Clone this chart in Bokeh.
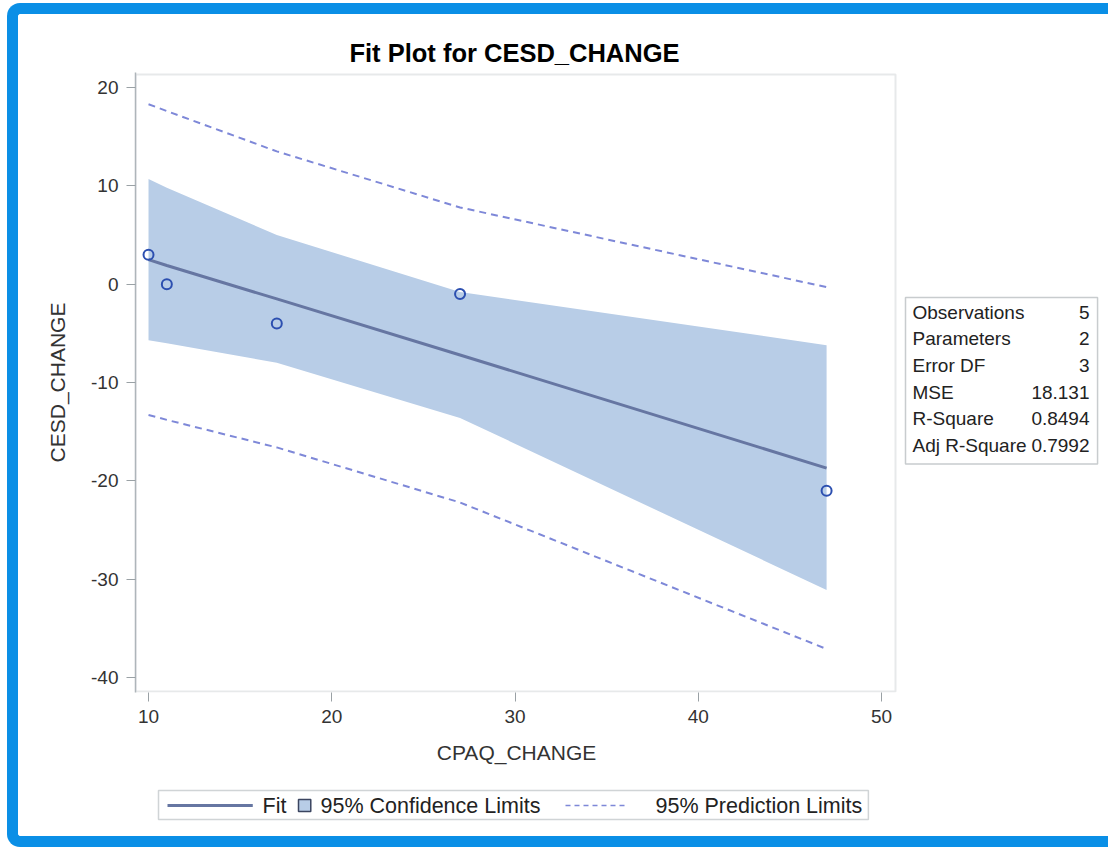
from bokeh.plotting import figure
from bokeh.models import Label, FixedTicker, InlineStyleSheet, BoxAnnotation, ColumnDataSource
from bokeh.embed import file_html
from bokeh.resources import INLINE

# ---- data ----
x_obs = [10, 11, 17, 27, 47]
y_obs = [3, 0, -4, -1, -21]
fit_y = [2.5, 1.9, -1.5, -7.2, -18.7]
clm_upper = [10.7, 9.8, 5.0, -0.8, -6.2]
clm_lower = [-5.7, -6.0, -8.0, -13.6, -31.1]
pred_upper = [18.3, 17.6, 13.5, 7.8, -0.3]
pred_lower = [-13.3, -13.8, -16.6, -22.2, -37.1]
x_ticks = [10, 20, 30, 40, 50]
y_ticks = [-40, -30, -20, -10, 0, 10, 20]
stat_names = ["Observations", "Parameters", "Error DF", "MSE", "R-Square", "Adj R-Square"]
stat_values = ["5", "2", "3", "18.131", "0.8494", "0.7992"]
legend_labels = ["Fit", "95% Confidence Limits", "95% Prediction Limits"]
title_text = "Fit Plot for CESD_CHANGE"
x_label = "CPAQ_CHANGE"
y_label = "CESD_CHANGE"

# plot-area extents in data units
X_LO, X_HI = 9.29, 50.76
Y_LO, Y_HI = -41.42, 21.32

FONT = "Liberation Sans"
W, H = 1108, 847
BOX_L, BOX_R, BOX_T, BOX_B = 135, 895, 74, 691   # plot box in pixels
FL, FT, FB = BOX_L, BOX_T - 2, BOX_B + 1
FR = 1105             # frame extends under the statistics inset
GRAY = "#AEB5BA"
FIT_C = "#6676A2"
PRED_C = "#7E88D8"
BAND_C = "#B8CDE7"

xs = (X_HI - X_LO) / (BOX_R - BOX_L)
ys = (Y_HI - Y_LO) / (BOX_B - BOX_T)
p = figure(width=W, height=H, output_backend="svg", toolbar_location=None,
           x_range=(X_LO, X_LO + xs * (FR - FL)),
           y_range=(Y_LO - ys * (FB - BOX_B), Y_HI + ys * (BOX_T - FT)),
           min_border_left=FL, min_border_right=W - FR,
           min_border_top=FT, min_border_bottom=H - FB)
p.title.visible = False
p.background_fill_color = "white"
p.border_fill_color = "white"
p.outline_line_color = None
p.grid.visible = False

for ax in (p.xaxis[0], p.yaxis[0]):
    ax.axis_line_color = GRAY
    ax.axis_line_width = 1.5
    ax.major_tick_line_color = "#9AA1A5"
    ax.major_tick_out = 9
    ax.major_tick_in = 0
    ax.minor_tick_line_color = None
    ax.major_label_text_font = FONT
    ax.major_label_text_font_size = "19px"
    ax.major_label_text_color = "#333333"
    ax.axis_label_text_font = FONT
    ax.axis_label_text_font_size = "21px"
    ax.axis_label_text_font_style = "normal"
    ax.axis_label_text_color = "#333333"
    ax.major_label_standoff = 8
p.xaxis.axis_line_color = None

p.xaxis.ticker = FixedTicker(ticks=x_ticks)
p.yaxis.ticker = FixedTicker(ticks=y_ticks)
p.xaxis.major_label_overrides = {t: str(t) for t in x_ticks}
p.yaxis.major_label_overrides = {t: str(t) for t in y_ticks}
p.xaxis.axis_label = None
p.yaxis.axis_label = y_label
p.yaxis.axis_label_standoff = 19

# plot box outline
p.add_layout(BoxAnnotation(left=X_LO, right=X_HI, bottom=Y_LO, top=Y_HI,
                           fill_alpha=0, line_color=GRAY, line_width=2))

# ---- marks ----
src = ColumnDataSource(dict(x=x_obs, y=y_obs, fit=fit_y, lo=clm_lower, hi=clm_upper,
                            plo=pred_lower, phi=pred_upper))
p.varea(x="x", y1="lo", y2="hi", source=src, fill_color=BAND_C)
p.line("x", "phi", source=src, line_color=PRED_C, line_width=2, line_dash="7 5")
p.line("x", "plo", source=src, line_color=PRED_C, line_width=2, line_dash="7 5")
p.line("x", "fit", source=src, line_color=FIT_C, line_width=3)
p.scatter("x", "y", source=src, marker="circle", size=10, fill_color=None,
          line_color="#2C4FB0", line_width=2)


def lab(x, y, text, side=None, **kw):
    opts = dict(x=x, y=y, x_units="canvas", y_units="canvas", text=text,
                text_font=FONT, text_color="#222222")
    opts.update(kw)
    lbl = Label(**opts)
    if side is None:
        p.add_layout(lbl)
    else:
        p.add_layout(lbl, side)


# ---- title (top panel) ----
lab(514, 52.5, title_text, "above", text_align="center", text_baseline="middle",
    text_font_size="25.5px", text_font_style="bold", text_color="#000000")

# ---- x-axis title, centred under the plot box (bottom panel) ----
lab(516, 752, x_label, "below", text_align="center", text_baseline="middle",
    text_font_size="21px", text_color="#333333")

# ---- legend (bottom panel) ----
lab(158, 790, legend_labels[0], "below", text_align="left", text_baseline="top",
    text_font_size="21.5px", padding=(104, 582, 3, 2),
    border_line_color="#D0D4D6", border_line_width=1.5, background_fill_color="white")
lab(320, 805, legend_labels[1], "below", text_align="left", text_baseline="middle",
    text_font_size="21.5px")
lab(655, 805, legend_labels[2], "below", text_align="left", text_baseline="middle",
    text_font_size="21.5px")
# legend keys: fit line, band swatch, prediction dashes
lab(167, 803.5, " ", "below", text_baseline="top", text_font_size="1px",
    padding=(42, 43, 1, 1), background_fill_color=FIT_C)
lab(298, 799, " ", "below", text_baseline="top", text_font_size="1px",
    padding=(6, 6, 6, 5), background_fill_color=BAND_C,
    border_line_color="#3B4560", border_line_width=1.5)
lab(565, 805, " ", "below", text_baseline="top", text_font_size="0.01px",
    padding=(30, 31, 0, 0), border_line_color=PRED_C, border_line_width=1.5,
    border_line_dash="5 4")

# ---- statistics inset (inside the extended frame) ----
lab(905, 297, "\n".join(stat_names), text_align="left", text_baseline="top",
    text_font_size="19px", text_line_height=1.272, padding=(7, 71, 4, 8),
    border_line_color="#C8CCCE", border_line_width=1.5, background_fill_color="white")
lab(1089, 301, "\n".join(stat_values), text_align="right", text_baseline="top",
    text_font_size="19px", text_line_height=1.272)

# ---- blue window frame ----
p.stylesheets = [InlineStyleSheet(css=(
    ":host { position: relative; }"
    ":host::after { content: ''; position: absolute; left: 7px; top: 3px;"
    " width: 1101px; height: 844px; box-sizing: border-box;"
    " border: 11px solid #0A8FE6; border-right: none;"
    " border-radius: 13px 0 0 13px; pointer-events: none; z-index: 50; }"))]

open("out.html", "w").write(file_html(p, INLINE))
